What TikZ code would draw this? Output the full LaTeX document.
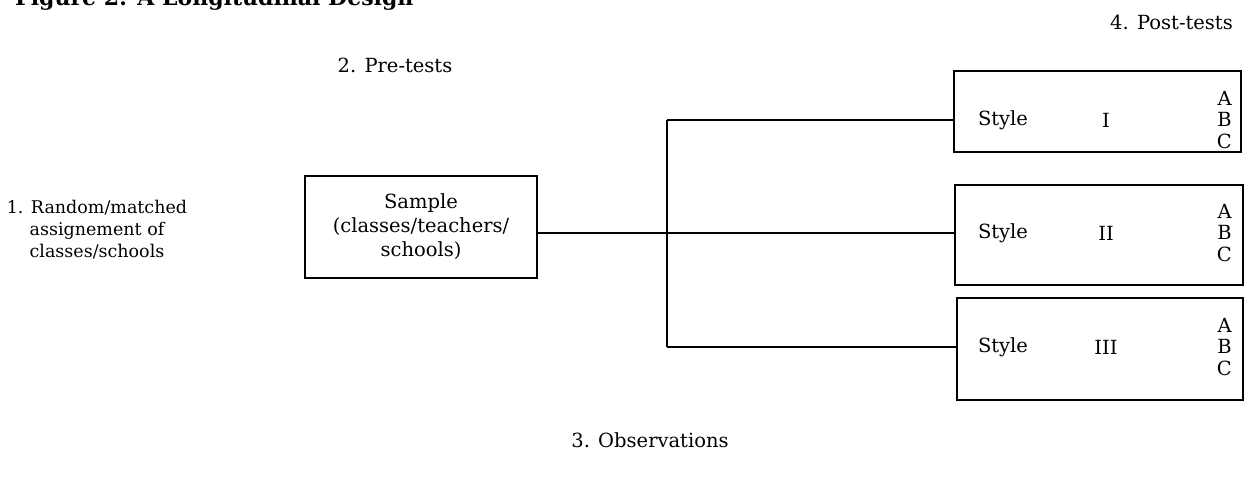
\documentclass[tikz,border=0pt]{standalone}
\usepackage{fontspec}
\setmainfont{DejaVu Serif}
\begin{document}
\begin{tikzpicture}[x=1pt,y=-1pt,
  box/.style={draw,line width=2pt},
  conn/.style={line width=2pt},
  lbl/.style={font=\fontsize{19.5}{24}\selectfont,align=center,inner sep=0pt},
  inb/.style={font=\fontsize{19.5}{21.5}\selectfont,inner sep=0pt}]
\useasboundingbox (0,0) rectangle (1245,478);
% title (cut off at top, as in the reference)
\node[anchor=base west,inner sep=0pt,font=\fontsize{22}{24}\bfseries\selectfont] (title) at (15,6) {Figure 2: A Longitudinal Design};
% labels
\node[lbl] (pre) at (395,65) {2. Pre-tests};
\node[lbl,anchor=east] (post) at (1233,22) {4. Post-tests};
\node[lbl] (obs) at (650,440) {3. Observations};
\node[lbl,font=\fontsize{17.5}{22}\selectfont] (rand) at (97,230) {1. Random/matched\\assignement of\\classes/schools};
% sample box
\node[box,lbl,minimum width=232pt,minimum height=102pt] (sample) at (421,227) {Sample\\(classes/teachers/\\schools)};
% style boxes
\node[box,minimum width=287pt,minimum height=81pt,inner sep=0pt] (s1) at (1097,112) {};
\node[box,minimum width=288pt,minimum height=100pt,inner sep=0pt] (s2) at (1099,235) {};
\node[box,minimum width=286pt,minimum height=102pt,inner sep=0pt] (s3) at (1100,349) {};
\foreach \b/\r/\y in {s1/I/120,s2/II/233,s3/III/347}{
  \node[inb] (\b st) at (1003,\y) {Style};
  \node[inb] (\b rn) at (1106,\y) {\r};
  \node[inb,align=right,anchor=east] (\b abc) at (1232,\y) {A\\B\\C};
}
% connectors
\coordinate (j1) at (667,120);
\coordinate (j2) at (667,233);
\coordinate (j3) at (667,347);
\draw[conn] (sample.east |- j2) -- (j2) -- (s2.west |- j2);
\draw[conn] (j1) -- (j3);
\draw[conn] (j1) -- (s1.west |- j1);
\draw[conn] (j3) -- (s3.west |- j3);
\end{tikzpicture}
\end{document}
